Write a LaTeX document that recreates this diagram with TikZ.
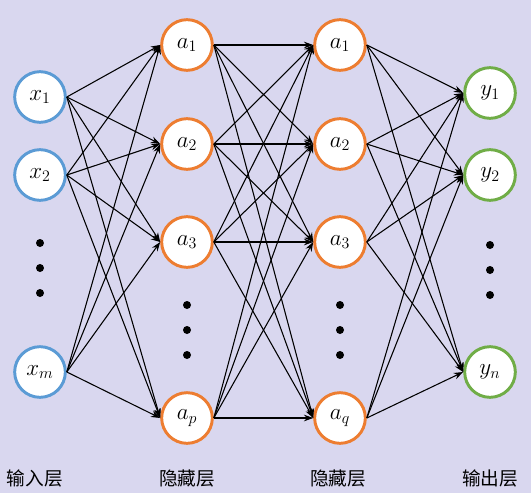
\documentclass[tikz,border=0pt]{standalone}
\usepackage{fontspec}
\newfontfamily\cjk{Noto Sans CJK SC}
\usetikzlibrary{arrows.meta}

\definecolor{bgcol}{HTML}{D9D7EF}
\definecolor{incol}{HTML}{5B9BD5}
\definecolor{hidcol}{HTML}{ED7D31}
\definecolor{outcol}{HTML}{70AD47}

\begin{document}
\begin{tikzpicture}[x=0.75pt,y=-0.75pt,
	neuron/.style={circle, draw, line width=2.2pt, fill=white, minimum size=38pt, inner sep=0pt, font=\fontsize{18}{20}\selectfont},
	conn/.style={-{Stealth[length=7pt,width=5pt]}, line width=0.8pt},
	dot/.style={circle, fill=black, inner sep=0pt, minimum size=6pt},
	layername/.style={font=\cjk\fontsize{14}{16}\selectfont}]
	% столбцы
	\def\XI{40}
	\def\XA{187}
	\def\XB{340}
	\def\XO{490}

	% фон
	\fill[bgcol] (0,0) rectangle (531,493);

	% входной слой
	\node[neuron, draw=incol] (in1) at (\XI,97) {$x_1$};
	\node[neuron, draw=incol] (in2) at (\XI,175) {$x_2$};
	\node[neuron, draw=incol] (inm) at (\XI,372) {$x_m$};

	% скрытые слои
	\node[neuron, draw=hidcol] (ha1) at (\XA,45) {$a_1$};
	\node[neuron, draw=hidcol] (ha2) at (\XA,144) {$a_2$};
	\node[neuron, draw=hidcol] (ha3) at (\XA,242) {$a_3$};
	\node[neuron, draw=hidcol] (hap) at (\XA,418) {$a_p$};

	\node[neuron, draw=hidcol] (hb1) at (\XB,45) {$a_1$};
	\node[neuron, draw=hidcol] (hb2) at (\XB,144) {$a_2$};
	\node[neuron, draw=hidcol] (hb3) at (\XB,242) {$a_3$};
	\node[neuron, draw=hidcol] (hbq) at (\XB,418) {$a_q$};

	% выходной слой
	\node[neuron, draw=outcol] (out1) at (\XO,93) {$y_1$};
	\node[neuron, draw=outcol] (out2) at (\XO,175) {$y_2$};
	\node[neuron, draw=outcol] (outn) at (\XO,372) {$y_n$};

	% многоточия
	\foreach \k/\y in {1/243, 2/268, 3/293} {
		\node[dot] (indot\k) at (\XI,\y) {};
		\node[dot] (outdot\k) at (\XO,\y+2) {};
	}
	\foreach \k/\y in {1/305, 2/330, 3/355} {
		\node[dot] (hadot\k) at (\XA,\y) {};
		\node[dot] (hbdot\k) at (\XB,\y) {};
	}

	% связи
	\foreach \s in {in1,in2,inm}
		\foreach \t in {ha1,ha2,ha3,hap}
			\draw[conn] (\s.east) -- (\t.west);
	\foreach \s in {ha1,ha2,ha3,hap}
		\foreach \t in {hb1,hb2,hb3,hbq}
			\draw[conn] (\s.east) -- (\t.west);
	\foreach \s in {hb1,hb2,hb3,hbq}
		\foreach \t in {out1,out2,outn}
			\draw[conn] (\s.east) -- (\t.west);

	% подписи слоёв
	\node[layername] (lin) at (35,478) {输入层};
	\node[layername] (lha) at (187,478) {隐藏层};
	\node[layername] (lhb) at (338,478) {隐藏层};
	\node[layername] (lout) at (490,478) {输出层};
\end{tikzpicture}
\end{document}
